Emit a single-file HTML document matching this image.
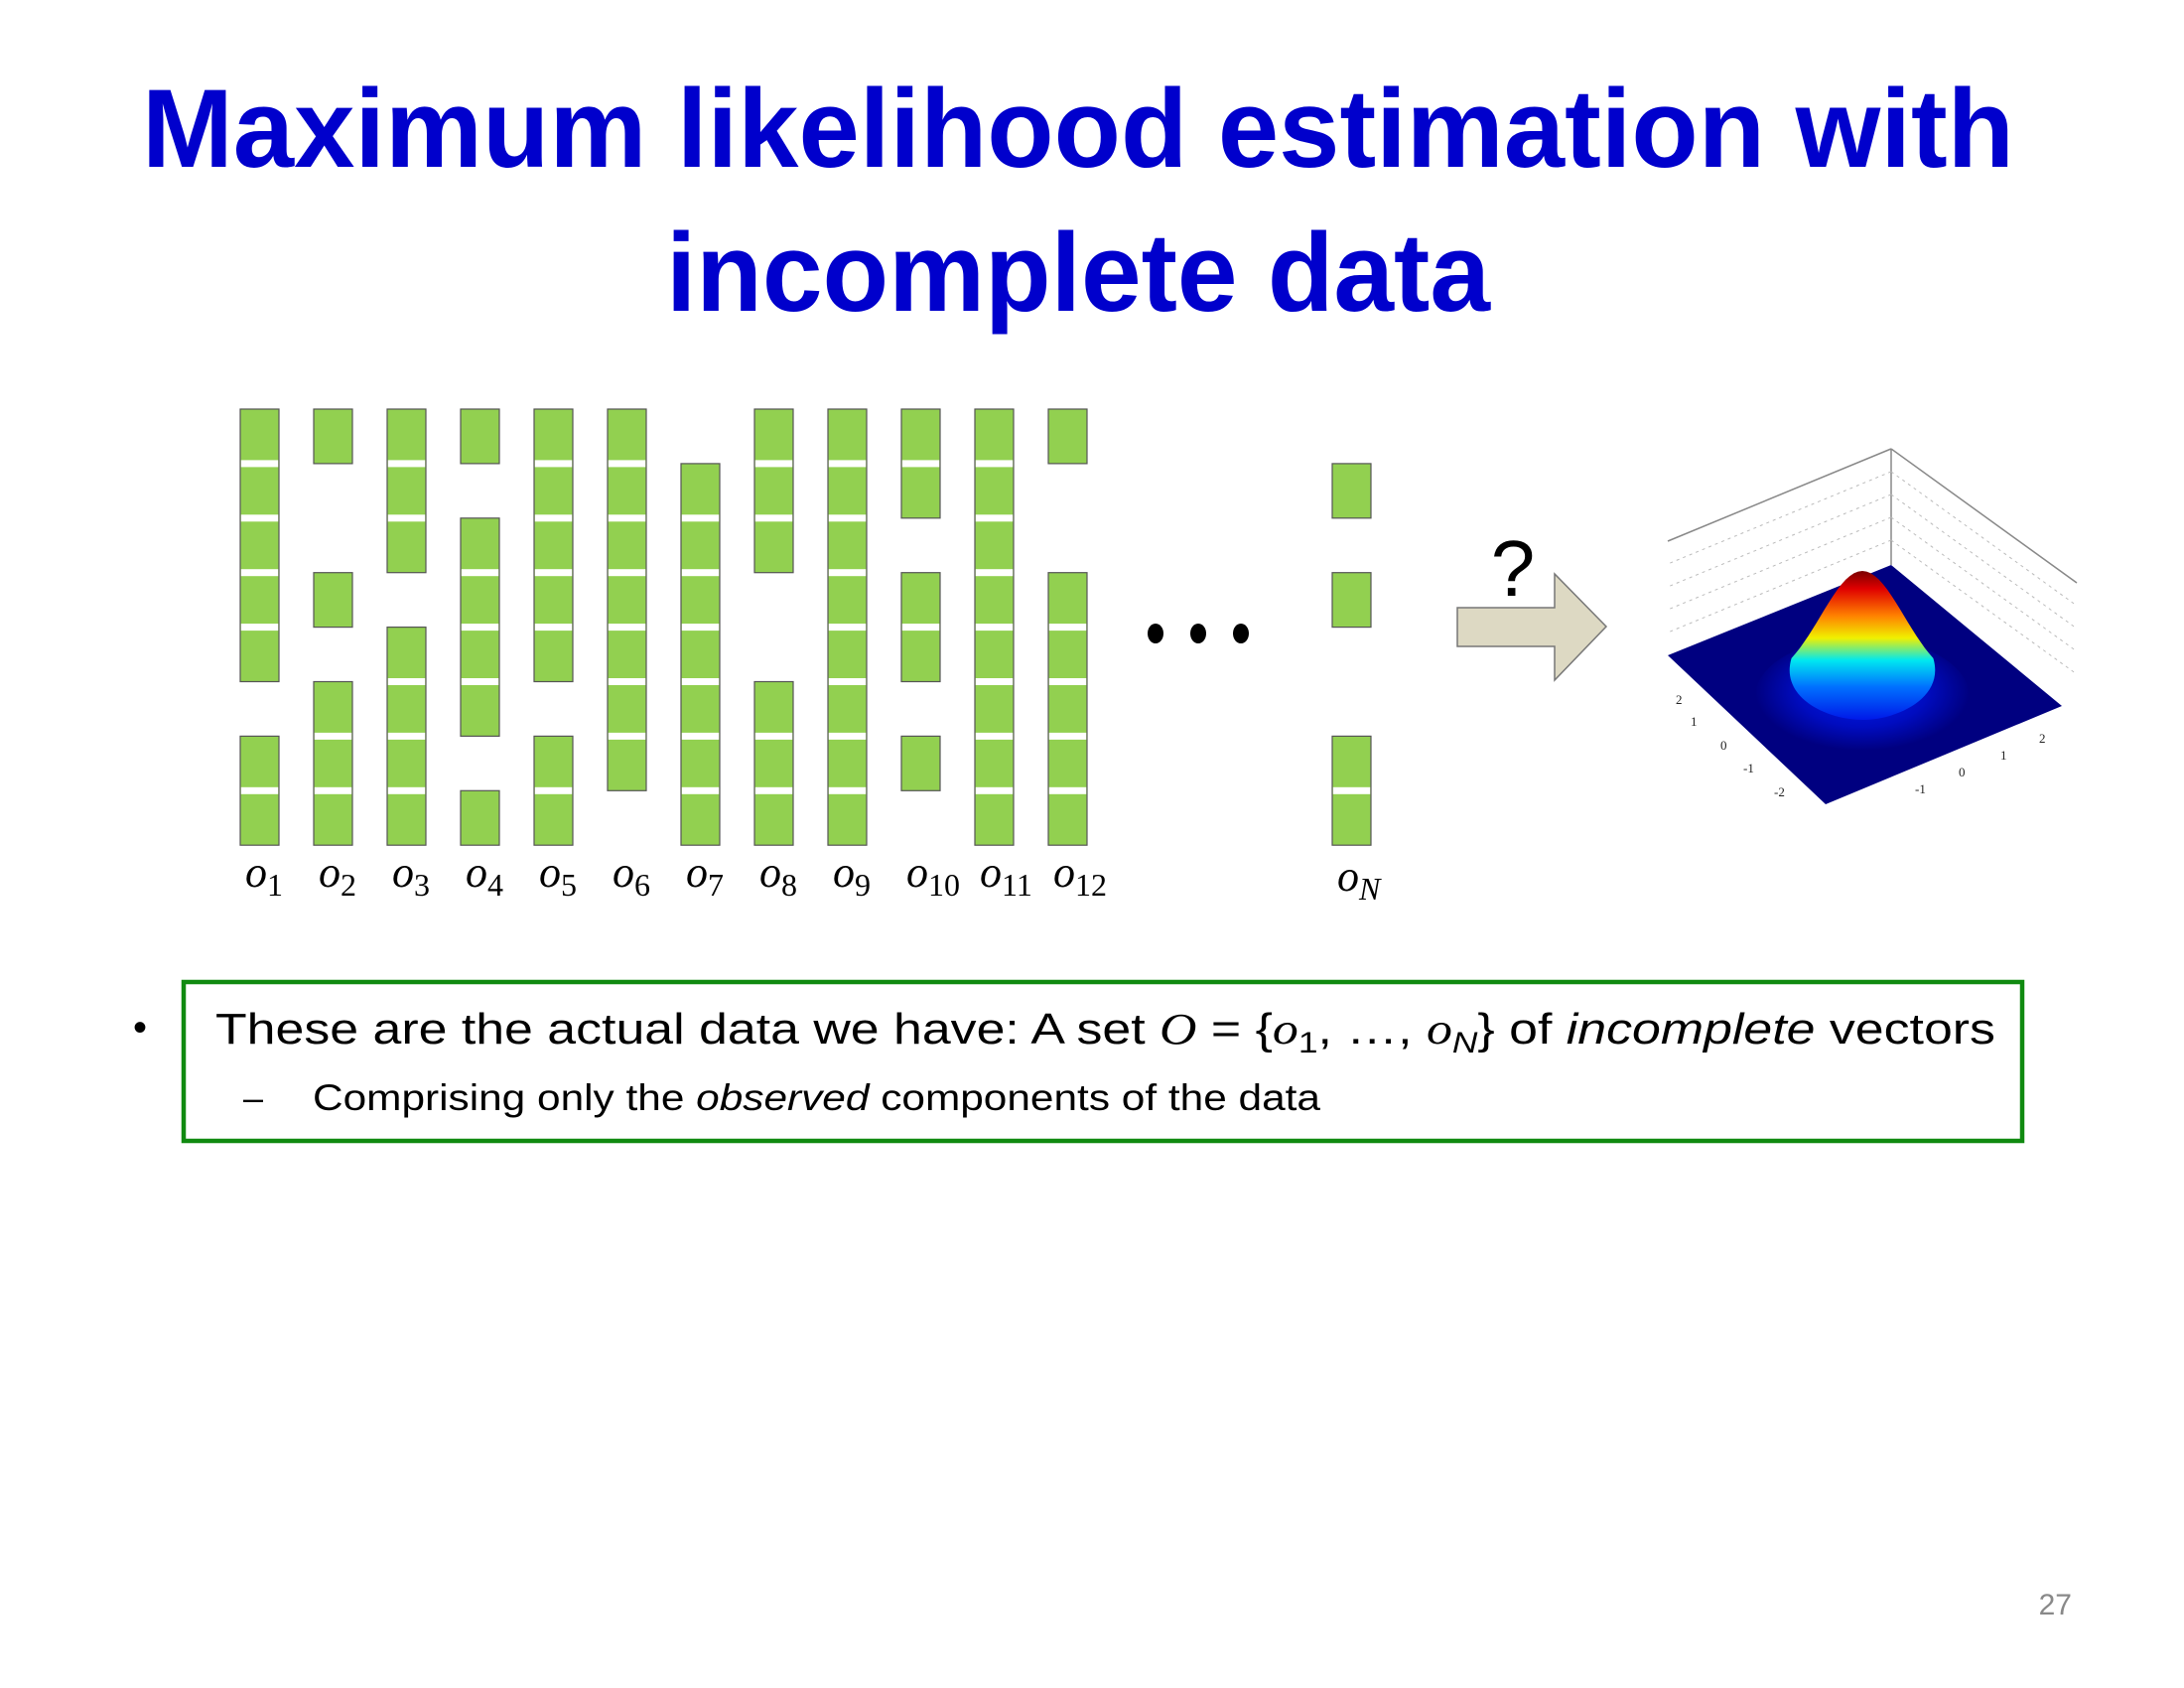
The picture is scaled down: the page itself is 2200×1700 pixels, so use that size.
<!DOCTYPE html>
<html><head><meta charset="utf-8">
<style>
html,body{margin:0;padding:0;background:#fff;}
svg{display:block;}
</style></head>
<body>
<svg id="slide" width="2200" height="1700" viewBox="0 0 2200 1700" xmlns="http://www.w3.org/2000/svg">
<defs>
  <linearGradient id="bellGrad" x1="0" y1="0" x2="0" y2="1">
    <stop offset="0" stop-color="#7a0000"/>
    <stop offset="0.12" stop-color="#e00000"/>
    <stop offset="0.3" stop-color="#ff8000"/>
    <stop offset="0.45" stop-color="#f0f000"/>
    <stop offset="0.6" stop-color="#00e8f0"/>
    <stop offset="0.78" stop-color="#0070ff"/>
    <stop offset="1" stop-color="#0018e8"/>
  </linearGradient>
  <radialGradient id="glow" cx="0.5" cy="0.45" r="0.5">
    <stop offset="0" stop-color="#0020f0"/>
    <stop offset="0.6" stop-color="#000cc0"/>
    <stop offset="1" stop-color="#000080"/>
  </radialGradient>
</defs>

<g font-family="'Liberation Sans', sans-serif" font-weight="bold" fill="#0000cc" text-anchor="middle">
  <text x="1086" y="168" font-size="112" textLength="1886" lengthAdjust="spacingAndGlyphs">Maximum likelihood estimation with</text>
  <text x="1086" y="313" font-size="112" textLength="830" lengthAdjust="spacingAndGlyphs">incomplete data</text>
</g>

<g id="vectors"></g>

<g fill="#000">
  <ellipse cx="1164" cy="638" rx="8" ry="10"/>
  <ellipse cx="1207" cy="638" rx="8" ry="10"/>
  <ellipse cx="1250" cy="638" rx="8" ry="10"/>
</g>

<text x="1524" y="600" font-size="80" font-family="'Liberation Sans', sans-serif" text-anchor="middle" fill="#000">?</text>
<path d="M1468,612 L1566,612 L1566,578 L1618,631 L1566,685 L1566,651 L1468,651 Z" fill="#ddd9c3" stroke="#777" stroke-width="1.5"/>

<g>
  <g stroke="#888" stroke-width="1.5" fill="none">
    <line x1="1905" y1="452" x2="1680" y2="545"/>
    <line x1="1905" y1="452" x2="2092" y2="587"/>
    <line x1="1905" y1="452" x2="1905" y2="569"/>
  </g>
  <g stroke="#bbb" stroke-width="1" stroke-dasharray="3,4" fill="none">
    <line x1="1905" y1="475" x2="1680" y2="568"/><line x1="1905" y1="498" x2="1680" y2="591"/>
    <line x1="1905" y1="521" x2="1680" y2="614"/><line x1="1905" y1="544" x2="1680" y2="637"/>
    <line x1="1905" y1="475" x2="2092" y2="610"/><line x1="1905" y1="498" x2="2092" y2="633"/>
    <line x1="1905" y1="521" x2="2092" y2="656"/><line x1="1905" y1="544" x2="2092" y2="679"/>
  </g>
  <path d="M1680,660 L1905,569 L2077,711 L1839,810 Z" fill="#000080"/>
  <ellipse cx="1876" cy="702" rx="108" ry="60" fill="url(#glow)"/>
  <path id="bell" fill="url(#bellGrad)"/>
  <g font-family="'Liberation Serif', serif" font-size="13" fill="#222">
    <text x="1688" y="709">2</text><text x="1703" y="731">1</text><text x="1733" y="755">0</text>
    <text x="1756" y="778">-1</text><text x="1787" y="802">-2</text>
    <text x="2054" y="748">2</text><text x="2015" y="765">1</text><text x="1973" y="782">0</text><text x="1929" y="799">-1</text>
  </g>
</g>

<text x="134" y="1048" font-size="40" font-family="'Liberation Sans', sans-serif">•</text>
<rect x="185" y="989" width="1852" height="160" fill="none" stroke="#108a10" stroke-width="4.5"/>
<text x="217" y="1051" font-size="44" font-family="'Liberation Sans', sans-serif" fill="#000" textLength="1793" lengthAdjust="spacingAndGlyphs">These are the actual data we have:  A set <tspan font-family="'Liberation Serif', serif" font-style="italic">O</tspan> = {<tspan font-family="'Liberation Serif', serif" font-style="italic">o</tspan><tspan font-size="30" dy="9">1</tspan><tspan dy="-9">, …, </tspan><tspan font-family="'Liberation Serif', serif" font-style="italic">o</tspan><tspan font-size="30" font-style="italic" dy="9">N</tspan><tspan dy="-9">} of </tspan><tspan font-style="italic">incomplete</tspan> vectors</text>
<text x="245" y="1118" font-size="36" font-family="'Liberation Sans', sans-serif">–</text>
<text x="315" y="1118" font-size="37" font-family="'Liberation Sans', sans-serif" fill="#000" textLength="1015" lengthAdjust="spacingAndGlyphs">Comprising only the <tspan font-style="italic">observed</tspan> components of the data</text>

<text x="2087" y="1626" font-size="30" font-family="'Liberation Sans', sans-serif" fill="#898989" text-anchor="end">27</text>
</svg>

<script>
const vectorNames = ['1','2','3','4','5','6','7','8','9','10','11','12','N'];
const observedGroups = [
  [[0,4],[6,7]],
  [[0,0],[3,3],[5,7]],
  [[0,2],[4,7]],
  [[0,0],[2,5],[7,7]],
  [[0,4],[6,7]],
  [[0,6]],
  [[1,7]],
  [[0,2],[5,7]],
  [[0,7]],
  [[0,1],[3,4],[6,6]],
  [[0,7]],
  [[0,0],[3,7]],
  [[1,1],[3,3],[6,7]]
];
const NS = 'http://www.w3.org/2000/svg';
const g = document.getElementById('vectors');
function colX(i){ return i < 12 ? 242 + 74*i : 1342; }
function rowY(r){ return 412 + 54.9*r; }
const cw = 39;
observedGroups.forEach(function(groups, i){
  const x = colX(i);
  const col = document.createElementNS(NS,'g');
  
  
  groups.forEach(function(gr){
    const y0 = rowY(gr[0]), y1 = rowY(gr[1]+1);
    const r = document.createElementNS(NS,'rect');
    
    
    r.setAttribute('x', x); r.setAttribute('y', y0);
    r.setAttribute('width', cw); r.setAttribute('height', y1 - y0);
    r.setAttribute('fill', '#92d050'); r.setAttribute('stroke', '#555'); r.setAttribute('stroke-width', '1.2');
    col.appendChild(r);
    for (let k = gr[0]+1; k <= gr[1]; k++){
      const s = document.createElementNS(NS,'rect');
      
      
      s.setAttribute('x', x + 0.8); s.setAttribute('y', rowY(k) - 3.5);
      s.setAttribute('width', cw - 1.6); s.setAttribute('height', 7);
      s.setAttribute('fill', '#fff');
      col.appendChild(s);
    }
  });
  const t = document.createElementNS(NS,'text');
  
  
  t.setAttribute('x', x + 5); t.setAttribute('y', i < 12 ? 893 : 897);
  t.setAttribute('font-family', "'Liberation Serif', serif");
  t.setAttribute('font-size', '44');
  t.innerHTML = '<tspan font-style="italic">o</tspan><tspan font-size="32" dy="9"' + (i===12?' font-style="italic"':'') + '>' + vectorNames[i] + '</tspan>';
  col.appendChild(t);
  g.appendChild(col);
});
// gaussian bell outline (decorative surface)
(function(){
  const cx = 1876, top = 575, base = 690, s = 42, kmax = 1.7;
  let d = '';
  for (let k = -kmax; k <= kmax + 0.001; k += 0.1){
    const x = cx + k*s;
    const y = base - (base - top)*Math.exp(-k*k/2);
    d += (d ? 'L' : 'M') + x.toFixed(1) + ',' + y.toFixed(1);
  }
  const yEnd = base - (base - top)*Math.exp(-kmax*kmax/2);
  d += 'C' + (cx + kmax*s + 12) + ',' + (yEnd + 40) + ' ' + (cx + 35) + ',' + (base + 35) + ' ' + cx + ',' + (base + 35);
  d += 'C' + (cx - 35) + ',' + (base + 35) + ' ' + (cx - kmax*s - 12) + ',' + (yEnd + 40) + ' ' + (cx - kmax*s) + ',' + yEnd.toFixed(1) + 'Z';
  document.getElementById('bell').setAttribute('d', d);
})();
</script>
</body></html>
